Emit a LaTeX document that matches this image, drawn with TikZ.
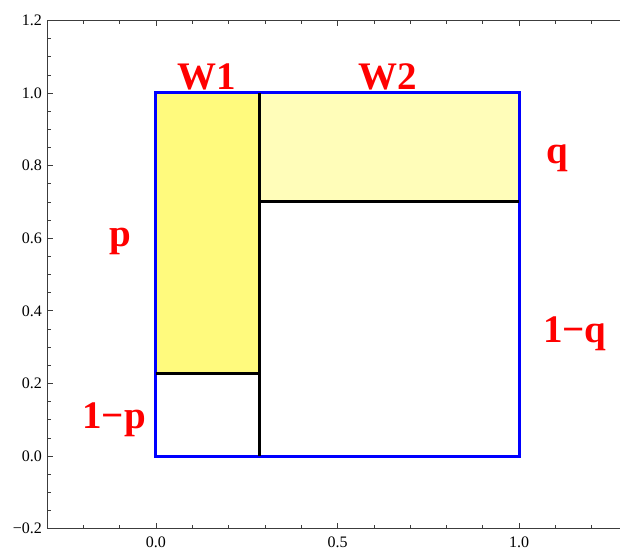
\documentclass[tikz,border=0pt]{standalone}
\usepackage{fontspec}
\setmainfont{Liberation Serif}
\definecolor{wone}{RGB}{255,250,125}
\definecolor{wtwo}{RGB}{255,253,185}
\definecolor{framecol}{RGB}{60,60,60}
\begin{document}
\begin{tikzpicture}[x=363pt,y=363pt,
  lab/.style={text=red, font=\fontsize{39}{39}\selectfont\bfseries, anchor=base, inner sep=0pt},
  ticklab/.style={font=\fontsize{16}{16}\selectfont, inner sep=0pt},
  frameline/.style={line width=1.1pt, framecol},
  majortick/.style={line width=0.8pt, framecol},
  minortick/.style={line width=0.6pt, framecol},
  sepline/.style={line width=3pt, black},
  border/.style={line width=3pt, blue}]
\useasboundingbox (-0.42975,-0.25895) rectangle (1.27824,1.25620);
% fills
\fill[wone] (0,0.226) rectangle (0.284,1);
\fill[wtwo] (0.284,0.7) rectangle (1,1);
% frame
\draw[frameline] (1.3,1.2) -- (-0.3,1.2) -- (-0.3,-0.2) -- (1.3,-0.2);
% left ticks
\foreach \i in {-4,...,24} {\draw[minortick] (-0.3,\i*0.05) -- ++(3.5pt,0);}
\foreach \i in {-1,...,6} {\draw[majortick] (-0.3,\i*0.2) -- ++(6pt,0);}
% bottom and top ticks
\foreach \i in {-2,...,12} {
  \draw[minortick] (\i*0.1,-0.2) -- ++(0,3.5pt);
  \draw[minortick] (\i*0.1,1.2) -- ++(0,-3.5pt);}
\foreach \i in {0,1,2} {
  \draw[majortick] (\i*0.5,-0.2) -- ++(0,6pt);
  \draw[majortick] (\i*0.5,1.2) -- ++(0,-6pt);}
% tick labels
\foreach \v/\t [count=\k] in {-0.2/−0.2,0/0.0,0.2/0.2,0.4/0.4,0.6/0.6,0.8/0.8,1.0/1.0,1.2/1.2}
  {\node[ticklab, anchor=east] (yl\k) at ([xshift=-5pt]-0.3,\v) {\t};}
\foreach \v/\t [count=\k] in {0/0.0,0.5/0.5,1/1.0}
  {\node[ticklab, anchor=north] (xl\k) at ([yshift=-8pt]\v,-0.2) {\t};}
% blue square and separators
\draw[border] (0,0) rectangle (1,1);
\draw[sepline] (0.284,0) -- (0.284,1);
\draw[sepline] (0,0.226) -- (0.284,0.226);
\draw[sepline] (0.284,0.7) -- (1,0.7);
% labels
\node[lab] (w1) at (0.1405,1.011) {W1};
\node[lab] (w2) at (0.639,1.011) {W2};
\node[lab] (q) at (1.105,0.807) {q};
\node[lab] (p) at (-0.0992,0.5758) {p};
\node[lab] (oq) at (1.154,0.314) {1−q};
\node[lab] (op) at (-0.1157,0.0744) {1−p};
\end{tikzpicture}
\end{document}
